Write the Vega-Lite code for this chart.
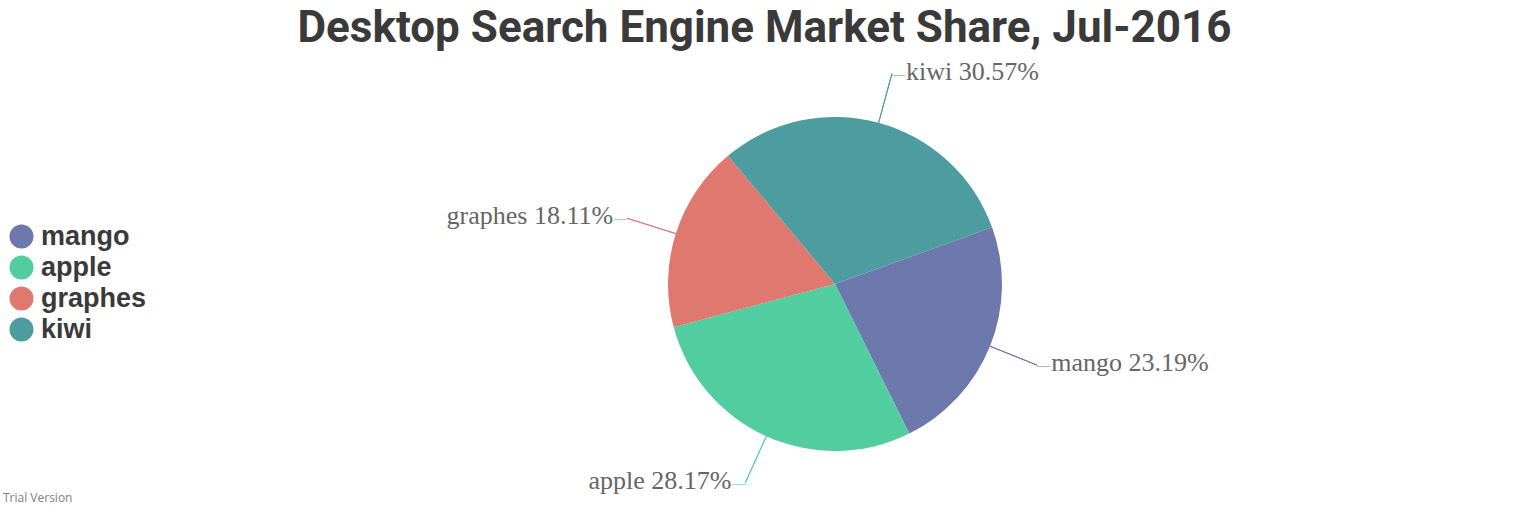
{
  "$schema": "https://vega.github.io/schema/vega-lite/v6.json",
  "padding": {"left": 3, "top": 6, "right": 0, "bottom": 6},
  "background": "white",
  "title": {"text": "Desktop Search Engine Market Share, Jul-2016", "font": "Roboto", "fontSize": 44, "fontWeight": "bold", "color": "#3a3a3a", "anchor": "middle", "offset": 8},
  "data": {"values": [
    {"fruit": "mango", "share": 23.19, "label": "mango 23.19%"},
    {"fruit": "apple", "share": 28.17, "label": "apple 28.17%"},
    {"fruit": "graphes", "share": 18.11, "label": "graphes 18.11%"},
    {"fruit": "kiwi", "share": 30.57, "label": "kiwi 30.57%"}
  ]},
  "config": {"view": {"stroke": null}},
  "vconcat": [
    {
      "width": 1382,
      "height": 404,
      "title": {"text": "Trial Version", "orient": "bottom", "anchor": "start", "frame": "bounds", "font": "Open Sans", "fontSize": 12, "fontWeight": "normal", "color": "#808080", "offset": -1},
      "encoding": {
        "theta": {"field": "share", "type": "quantitative", "stack": true, "scale": {"domain": [0, 100.04], "range": [2.6808, 8.964]}},
        "order": {"field": "fruit", "type": "nominal", "sort": "ascending"}
      },
      "layer": [
        {
          "mark": {"type": "arc", "outerRadius": 167},
          "encoding": {
            "color": {
              "field": "fruit", "type": "nominal",
              "scale": {"domain": ["mango", "apple", "graphes", "kiwi"], "range": ["#6d78ad", "#51cda0", "#df7970", "#4c9ca0"]},
              "legend": {"orient": "none", "legendX": -141, "legendY": 136, "title": null, "symbolType": "circle", "symbolSize": 576, "symbolStrokeWidth": 0, "symbolOpacity": 1, "labelFont": "Liberation Sans", "labelFontSize": 27, "labelFontWeight": "bold", "labelColor": "#3a3a3a", "labelOffset": 6, "rowPadding": 3, "padding": 5}
            }
          }
        },
        {
          "mark": {"type": "arc", "filled": false, "innerRadius": 167, "outerRadius": 218, "padAngle": 3, "strokeWidth": 1},
          "encoding": {"color": {"field": "fruit", "type": "nominal", "legend": null}, "detail": {"field": "fruit"}}
        },
        {
          "mark": {"type": "text", "radius": 218, "align": "left", "dx": 0, "baseline": "middle", "font": "Liberation Serif", "fontSize": 13, "text": "—"},
          "encoding": {
            "color": {"field": "fruit", "type": "nominal", "legend": null},
            "opacity": {"condition": {"test": "datum.fruit === 'mango' || datum.fruit === 'kiwi'", "value": 1}, "value": 0}
          }
        },
        {
          "mark": {"type": "text", "radius": 218, "align": "right", "dx": 0, "baseline": "middle", "font": "Liberation Serif", "fontSize": 13, "text": "—"},
          "encoding": {
            "color": {"field": "fruit", "type": "nominal", "legend": null},
            "opacity": {"condition": {"test": "datum.fruit === 'apple' || datum.fruit === 'graphes'", "value": 1}, "value": 0}
          }
        },
        {
          "mark": {"type": "text", "radius": 218, "align": "left", "dx": 14, "dy": -2, "baseline": "middle", "font": "Liberation Serif", "fontSize": 26, "color": "#666666"},
          "encoding": {
            "text": {"field": "label"},
            "detail": {"field": "fruit"},
            "opacity": {"condition": {"test": "datum.fruit === 'mango' || datum.fruit === 'kiwi'", "value": 1}, "value": 0}
          }
        },
        {
          "mark": {"type": "text", "radius": 218, "align": "right", "dx": -14, "dy": -2, "baseline": "middle", "font": "Liberation Serif", "fontSize": 26, "color": "#666666"},
          "encoding": {
            "text": {"field": "label"},
            "detail": {"field": "fruit"},
            "opacity": {"condition": {"test": "datum.fruit === 'apple' || datum.fruit === 'graphes'", "value": 1}, "value": 0}
          }
        }
      ],
      "resolve": {"legend": {"color": "independent"}}
    }
  ]
}
